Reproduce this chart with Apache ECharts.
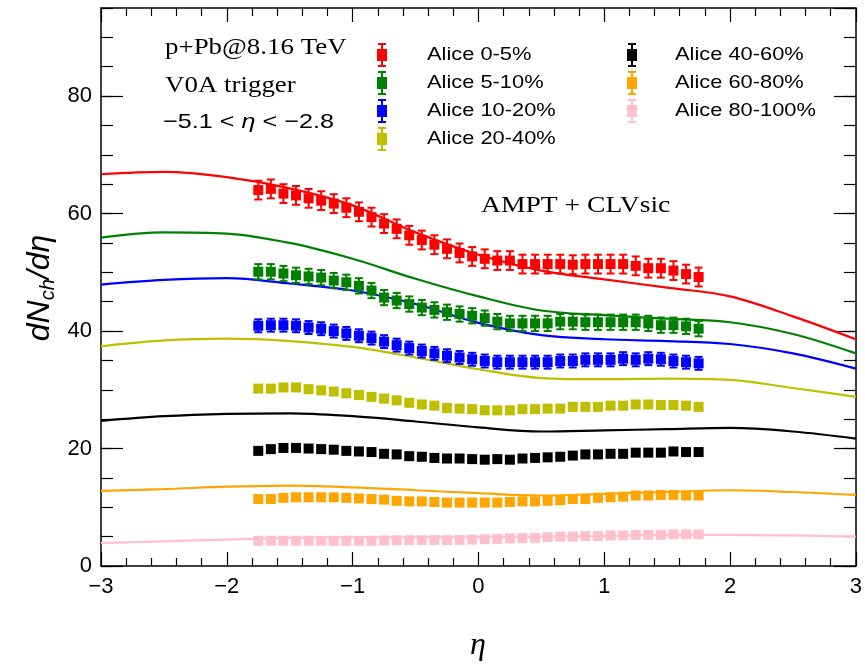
<!DOCTYPE html>
<html>
<head>
<meta charset="utf-8">
<script src="https://cdn.jsdelivr.net/npm/echarts@6/dist/echarts.min.js"></script>
<style>html,body{margin:0;padding:0;background:#fff}#c{width:865px;height:666px}</style>
</head>
<body>
<div id="c"></div>
<script>
// ---- data ----
const eta = [-1.75,-1.65,-1.55,-1.45,-1.35,-1.25,-1.15,-1.05,-0.95,-0.85,-0.75,-0.65,-0.55,-0.45,-0.35,-0.25,-0.15,-0.05,
             0.05,0.15,0.25,0.35,0.45,0.55,0.65,0.75,0.85,0.95,1.05,1.15,1.25,1.35,1.45,1.55,1.65,1.75];
const alice0_5   = [64.0,64.2,63.4,63.1,62.6,62.2,61.7,61.0,60.3,59.4,58.3,57.4,56.3,55.5,54.7,54.0,53.3,52.7,52.3,52.0,52.0,51.4,51.4,51.4,51.4,51.3,51.4,51.4,51.4,51.4,51.1,50.7,50.7,50.3,49.7,49.2];
const alice5_10  = [50.1,50.1,49.8,49.5,49.3,49.1,48.6,48.3,47.7,46.9,45.7,45.2,44.6,44.0,43.6,43.2,42.9,42.6,42.2,41.6,41.3,41.3,41.3,41.3,41.6,41.6,41.5,41.5,41.5,41.5,41.5,41.3,41.0,41.0,40.8,40.4];
const alice10_20 = [40.9,41.0,41.0,40.9,40.6,40.4,40.0,39.6,39.2,38.8,38.2,37.6,37.1,36.6,36.2,35.8,35.5,35.2,34.9,34.7,34.7,34.7,34.7,34.7,34.9,34.9,35.1,35.1,35.1,35.3,35.1,35.3,35.2,34.9,34.7,34.5];
const alice20_40 = [30.2,30.2,30.4,30.4,30.1,29.9,29.7,29.4,29.1,28.8,28.5,28.2,27.8,27.5,27.3,26.9,26.8,26.7,26.5,26.5,26.5,26.7,26.7,26.8,26.8,27.1,27.1,27.1,27.3,27.3,27.5,27.5,27.4,27.4,27.3,27.1];
const alice40_60 = [19.6,19.9,20.1,20.1,20.0,19.9,19.8,19.6,19.5,19.4,19.1,19.0,18.7,18.6,18.4,18.3,18.3,18.2,18.1,18.2,18.1,18.3,18.4,18.5,18.6,18.8,19.0,19.0,19.1,19.1,19.3,19.3,19.3,19.5,19.4,19.4];
const alice60_80 = [11.4,11.4,11.6,11.7,11.7,11.7,11.7,11.6,11.5,11.4,11.3,11.1,11.0,11.0,10.9,10.8,10.8,10.8,10.8,10.8,10.9,11.0,11.0,11.1,11.2,11.4,11.4,11.6,11.7,11.8,12.0,12.0,12.1,12.1,12.0,12.0];
const alice80_100= [4.3,4.3,4.3,4.3,4.3,4.3,4.3,4.3,4.3,4.3,4.35,4.4,4.4,4.4,4.4,4.4,4.45,4.5,4.55,4.6,4.7,4.75,4.8,4.9,5.0,5.0,5.1,5.1,5.2,5.2,5.3,5.3,5.3,5.4,5.4,5.4];
const aliceErr   = [1.6, 1.3, 1.1, 0.6, 0.5, 0.3, 0.2];

const modelEta   = [-3,-2.5,-2,-1.5,-1,-0.5,0,0.5,1,1.5,2,2.5,3];
const ampt0_5    = [66.7,67.1,66.2,64.3,61.4,56.8,53.0,50.3,48.8,47.4,45.9,42.5,38.6];
const ampt5_10   = [55.9,56.8,56.6,55.0,52.3,48.9,45.9,43.5,42.7,42.1,41.5,39.5,36.2];
const ampt10_20  = [47.9,48.7,49.0,48.1,46.9,44.6,41.4,39.3,38.6,38.3,37.8,36.2,33.6];
const ampt20_40  = [37.4,38.4,38.7,38.3,37.3,35.5,33.5,32.0,31.8,31.9,31.7,30.3,28.8];
const ampt40_60  = [24.7,25.5,25.9,26.0,25.5,24.6,23.6,22.9,23.1,23.3,23.5,22.9,21.7];
const ampt60_80  = [12.8,13.1,13.5,13.7,13.4,12.9,12.4,12.0,12.3,12.6,12.9,12.6,12.1];
const ampt80_100 = [3.9,4.2,4.5,4.8,4.9,4.9,4.9,5.0,5.1,5.3,5.3,5.2,5.0];

const seriesNames = ['Alice 0-5%','Alice 5-10%','Alice 10-20%','Alice 20-40%','Alice 40-60%','Alice 60-80%','Alice 80-100%'];
const xTicks = [-3,-2,-1,0,1,2,3];
const yTicks = [0,20,40,60,80];

// ---- styling ----
const colors = ['#ff0000','#008000','#0000ff','#bfbf00','#000000','#ffa500','#ffc0cb'];
const dataSets = [alice0_5,alice5_10,alice10_20,alice20_40,alice40_60,alice60_80,alice80_100];
const modelSets = [ampt0_5,ampt5_10,ampt10_20,ampt20_40,ampt40_60,ampt60_80,ampt80_100];

const SANS = '"Liberation Sans", Arial, Helvetica, sans-serif';
const SERIF = '"Liberation Serif", "Times New Roman", serif';
const fmtNum = v => (v < 0 ? '\u2212' + Math.abs(v) : String(v));

const series = [];
modelSets.forEach((m, i) => {
  series.push({
    type: 'line', name: 'AMPT ' + seriesNames[i], xAxisIndex: 0, yAxisIndex: 0,
    data: modelEta.map((x, k) => [x, m[k]]),
    showSymbol: false, smooth: 0.35,
    lineStyle: { color: colors[i], width: 2.2 }, z: 2, silent: true
  });
});
dataSets.forEach((d, i) => {
  const col = colors[i], err = aliceErr[i];
  series.push({
    type: 'custom', name: seriesNames[i], xAxisIndex: 0, yAxisIndex: 0,
    data: eta.map((x, k) => [x, d[k]]),
    encode: { x: 0, y: 1 }, z: 5, silent: true,
    renderItem: function (params, api) {
      const x = api.value(0), y = api.value(1);
      const p = api.coord([x, y]);
      const t = api.coord([x, y + err]);
      const b = api.coord([x, y - err]);
      return {
        type: 'group',
        children: [
          { type: 'line', shape: { x1: p[0], y1: t[1], x2: p[0], y2: b[1] }, style: { stroke: col, lineWidth: 2 } },
          { type: 'line', shape: { x1: p[0] - 4, y1: t[1], x2: p[0] + 4, y2: t[1] }, style: { stroke: col, lineWidth: 2 } },
          { type: 'line', shape: { x1: p[0] - 4, y1: b[1], x2: p[0] + 4, y2: b[1] }, style: { stroke: col, lineWidth: 2 } },
          { type: 'rect', shape: { x: p[0] - 5, y: p[1] - 5, width: 10, height: 10 }, style: { fill: col } }
        ]
      };
    }
  });
});

// legend drawn as graphic elements
const graphics = [];
seriesNames.forEach((name, i) => {
  const colIdx = i < 4 ? 0 : 1;
  const row = i < 4 ? i : i - 4;
  const cy = 55 + 28 * row;
  const ix = colIdx === 0 ? 382 : 632;
  const tx = colIdx === 0 ? 427 : 675;
  const col = colors[i];
  graphics.push({
    type: 'group', children: [
      { type: 'line', shape: { x1: ix, y1: cy - 11, x2: ix, y2: cy + 11 }, style: { stroke: col, lineWidth: 2 } },
      { type: 'line', shape: { x1: ix - 4, y1: cy - 11, x2: ix + 4, y2: cy - 11 }, style: { stroke: col, lineWidth: 2 } },
      { type: 'line', shape: { x1: ix - 4, y1: cy + 11, x2: ix + 4, y2: cy + 11 }, style: { stroke: col, lineWidth: 2 } },
      { type: 'rect', shape: { x: ix - 5, y: cy - 6, width: 10, height: 12 }, style: { fill: col } }
    ]
  });
  graphics.push({
    type: 'text', x: tx, y: cy, scaleX: 1.15,
    style: { text: name, font: '19px ' + SANS, fill: '#000', align: 'left', verticalAlign: 'middle', textAlign: 'left', textVerticalAlign: 'middle' }
  });
});
graphics.push({ type: 'text', x: 165, y: 48, scaleX: 1.17,
  style: { text: 'p+Pb@8.16 TeV', font: '23px ' + SERIF, fill: '#000', align: 'left', verticalAlign: 'middle', textAlign: 'left', textVerticalAlign: 'middle' } });
graphics.push({ type: 'text', x: 165, y: 86, scaleX: 1.17,
  style: { text: 'V0A trigger', font: '23px ' + SERIF, fill: '#000', align: 'left', verticalAlign: 'middle', textAlign: 'left', textVerticalAlign: 'middle' } });
graphics.push({ type: 'text', x: 163, y: 122, scaleX: 1.2,
  style: { text: '{a|\u22125.1 < }{b|\u03b7}{a| < \u22122.8}', fill: '#000', align: 'left', verticalAlign: 'middle', textAlign: 'left', textVerticalAlign: 'middle',
    rich: { a: { fontFamily: SANS, fontSize: 21, fill: '#000' }, b: { fontFamily: SANS, fontStyle: 'italic', fontSize: 21, fill: '#000' } } } });
graphics.push({ type: 'text', x: 481, y: 206, scaleX: 1.2,
  style: { text: 'AMPT + CLVsic', font: '23px ' + SERIF, fill: '#000', align: 'left', verticalAlign: 'middle', textAlign: 'left', textVerticalAlign: 'middle' } });
// axis titles
graphics.push({ type: 'text', x: 40, y: 288, rotation: Math.PI / 2,
  style: { text: '{m|dN}{s|ch}{m|/d\u03b7}', align: 'center', verticalAlign: 'middle', textAlign: 'center', textVerticalAlign: 'middle',
    rich: { m: { fontFamily: SANS, fontStyle: 'italic', fontSize: 32, lineHeight: 36, fill: '#000' },
            s: { fontFamily: SANS, fontStyle: 'italic', fontSize: 20, lineHeight: 20, verticalAlign: 'bottom', fill: '#000' } } } });
graphics.push({ type: 'text', x: 478, y: 646,
  style: { text: '\u03b7', font: 'italic 32px ' + SERIF, fill: '#000', align: 'center', verticalAlign: 'middle', textAlign: 'center', textVerticalAlign: 'middle' } });

const axisLineStyle = { color: '#000', width: 1.5 };
function xAxisDef(pos, labels) {
  return {
    type: 'value', position: pos, min: xTicks[0], max: xTicks[xTicks.length - 1], interval: 1,
    axisLine: { show: true, onZero: false, lineStyle: axisLineStyle },
    axisTick: { show: true, inside: true, length: 14, lineStyle: { color: '#000', width: 1.2 } },
    minorTick: { show: true, splitNumber: 5, length: 8, lineStyle: { color: '#000', width: 1.2 } },
    axisLabel: { show: labels, formatter: fmtNum, fontFamily: SANS, fontSize: 22, color: '#000', margin: 10,
                 showMinLabel: true, showMaxLabel: true },
    splitLine: { show: false }, minorSplitLine: { show: false }
  };
}
function yAxisDef(pos, interval, len, labels, line) {
  return {
    type: 'value', position: pos, min: yTicks[0], max: 95, interval: interval,
    axisLine: { show: line, onZero: false, lineStyle: axisLineStyle },
    axisTick: { show: true, inside: true, length: len, lineStyle: { color: '#000', width: 1.2 } },
    axisLabel: { show: labels, fontFamily: SANS, fontSize: 22, color: '#000', margin: 9, showMaxLabel: false,
                 formatter: v => (yTicks.indexOf(v) >= 0 ? String(v) : '') },
    splitLine: { show: false }
  };
}

const chart = echarts.init(document.getElementById('c'), null, { renderer: 'canvas' });
chart.setOption({
  animation: false,
  backgroundColor: '#fff',
  grid: { left: 101, right: 8, top: 8, bottom: 100, containLabel: false },
  xAxis: [xAxisDef('bottom', true), xAxisDef('top', false)],
  yAxis: [yAxisDef('left', 20, 22, true, true), yAxisDef('left', 5, 12, false, false),
          yAxisDef('right', 20, 22, false, true), yAxisDef('right', 5, 12, false, false)],
  series: series,
  graphic: graphics
});
</script>
</body>
</html>
